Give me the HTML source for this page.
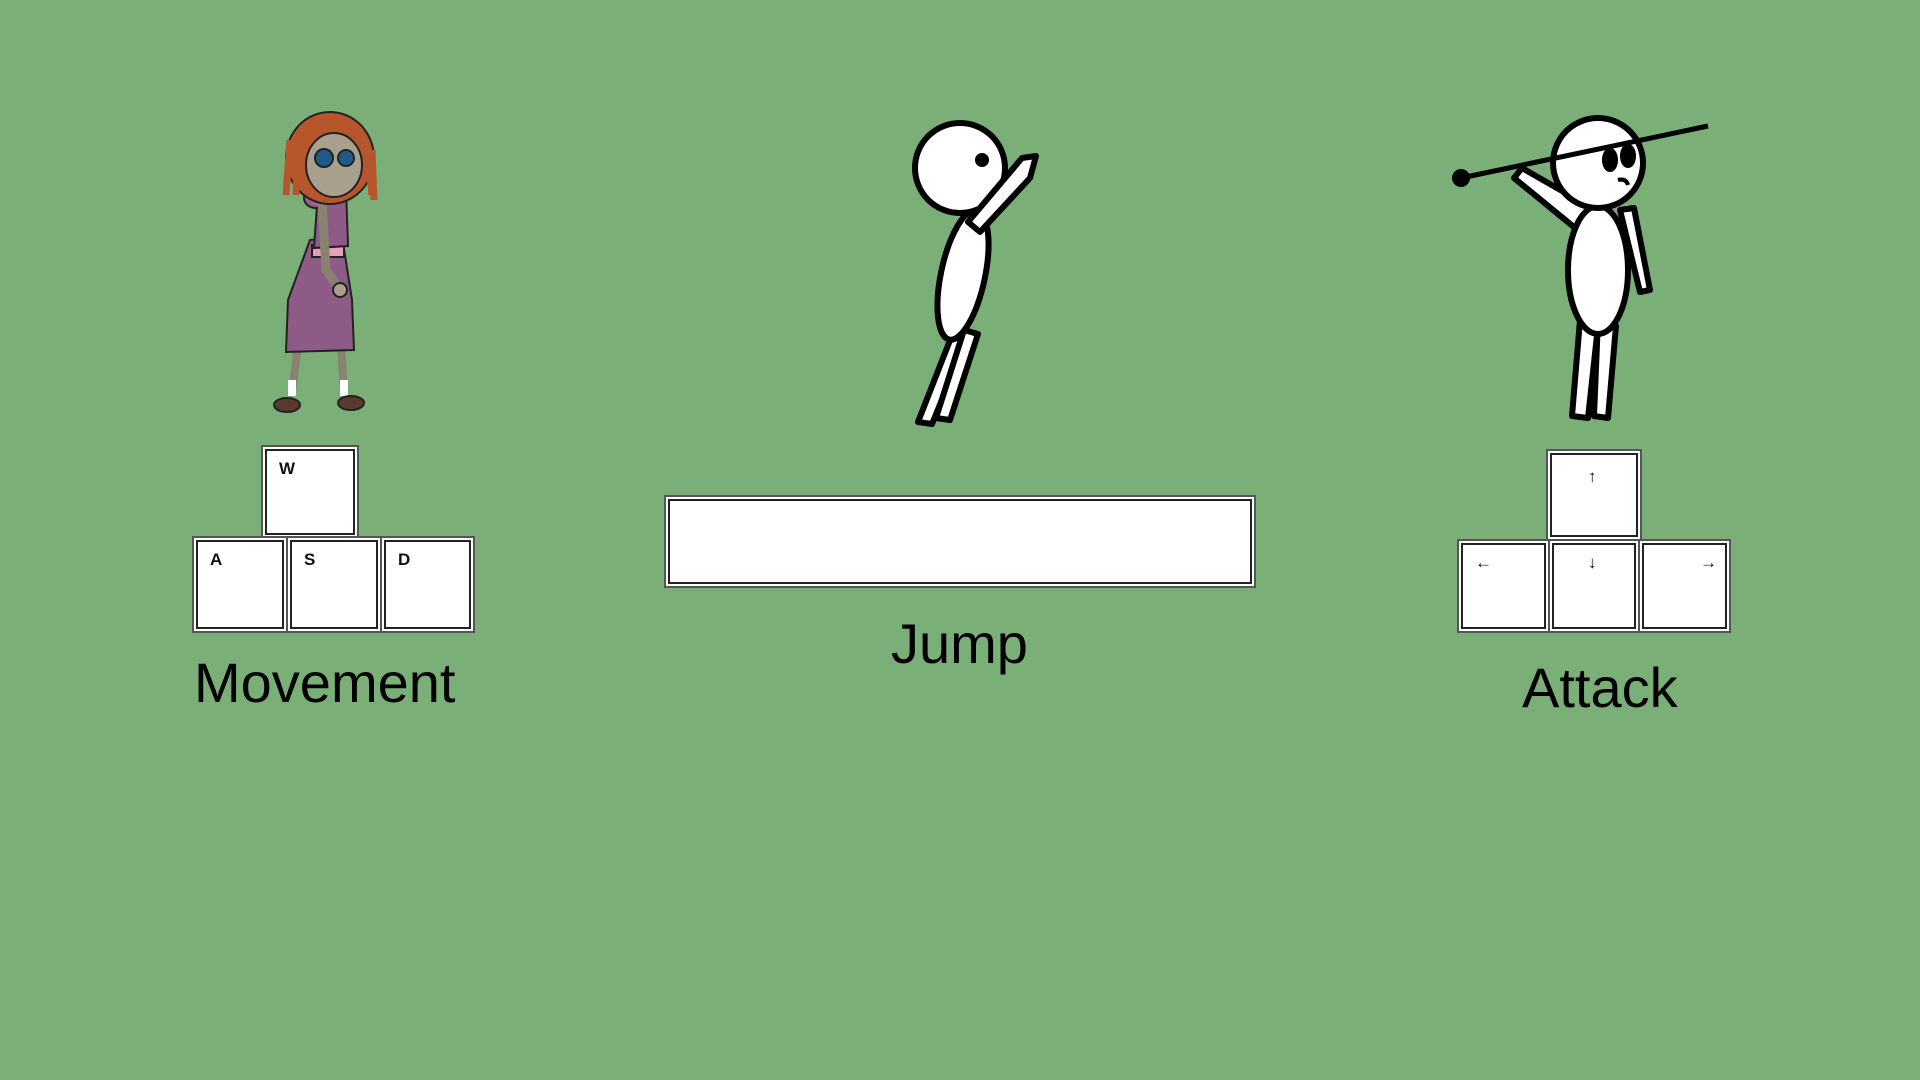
<!DOCTYPE html>
<html><head><meta charset="utf-8"><style>
html,body{margin:0;padding:0}
body{width:1920px;height:1080px;background:#7aaf77;position:relative;overflow:hidden;font-family:"Liberation Sans",sans-serif}
.key{position:absolute;background:#fff;box-sizing:border-box;border:2px solid #555;box-shadow:inset 0 0 0 2px #fff,inset 0 0 0 4px #222}
.key span{position:absolute;left:16px;top:12px;font-weight:bold;font-size:17px;color:#111}
.lbl{position:absolute;font-size:56px;color:#000;white-space:nowrap;line-height:1}
svg{position:absolute;left:0;top:0}
</style></head><body>
<svg width="1920" height="1080">
  <g stroke="#222" stroke-width="2">
    <path d="M300 330 L292 392 M340 330 L344 392" stroke="#8a8270" stroke-width="8" fill="none"/>
    <rect x="288" y="380" width="8" height="16" fill="#fff" stroke="none"/>
    <rect x="340" y="380" width="8" height="16" fill="#fff" stroke="none"/>
    <ellipse cx="287" cy="405" rx="13" ry="7" fill="#5a3a2c"/>
    <ellipse cx="351" cy="403" rx="13" ry="7" fill="#5a3a2c"/>
    <path d="M310 240 L342 236 L352 300 L354 350 L286 352 L288 300 Z" fill="#8e5a86"/>
    <rect x="312" y="245" width="32" height="12" fill="#e59fb8"/>
    <path d="M318 190 L346 188 L348 246 L314 248 Z" fill="#8e5a86"/>
    <ellipse cx="316" cy="198" rx="12" ry="10" fill="#9a6390"/>
    <path d="M322 200 L326 270 L340 290" stroke="#8a8270" stroke-width="9" fill="none"/>
    <circle cx="340" cy="290" r="7" fill="#a8a08d"/>
    <ellipse cx="330" cy="158" rx="44" ry="46" fill="#b7562b"/>
    <ellipse cx="334" cy="165" rx="28" ry="32" fill="#a8a08d"/>
    <circle cx="324" cy="158" r="9" fill="#1f5a8a"/>
    <circle cx="346" cy="158" r="8" fill="#1f5a8a"/>
    <path d="M290 140 L286 195 M298 135 L296 195 M366 140 L372 195 M372 150 L374 200" stroke="#b7562b" stroke-width="7"/>
  </g>
  <g stroke="#000" stroke-width="6" fill="#fff" stroke-linejoin="round">
    <path d="M954 330 L918 422 L932 424 L968 336 Z"/>
    <path d="M964 330 L936 418 L950 420 L978 334 Z"/>
    <ellipse cx="963" cy="275" rx="22" ry="66" transform="rotate(12 963 275)"/>
    <circle cx="960" cy="168" r="45"/>
    <circle cx="982" cy="160" r="4" fill="#000"/>
    <path d="M968 222 L1022 158 L1036 156 L1030 178 L980 232 Z"/>
  </g>
  <g stroke="#000" stroke-width="6" fill="#fff" stroke-linejoin="round">
    <path d="M1580 320 L1572 416 L1588 418 L1598 326 Z"/>
    <path d="M1598 320 L1594 416 L1608 418 L1616 326 Z"/>
    <path d="M1592 208 L1522 168 L1514 178 L1580 232 Z"/>
    <path d="M1620 210 L1640 292 L1650 290 L1634 208 Z"/>
    <ellipse cx="1598" cy="270" rx="30" ry="64"/>
    <circle cx="1598" cy="163" r="45"/>
    <ellipse cx="1610" cy="160" rx="5" ry="9" fill="#000"/>
    <ellipse cx="1628" cy="156" rx="5" ry="9" fill="#000"/>
    <path d="M1618 180 Q1626 178 1628 185" fill="none" stroke-width="4"/>
    <line x1="1461" y1="178" x2="1708" y2="126" stroke-width="5"/>
    <circle cx="1461" cy="178" r="6" fill="#000"/>
  </g>
</svg>

<div class="key" style="left:261px;top:445px;width:98px;height:94px"><span>W</span></div>
<div class="key" style="left:192px;top:536px;width:96px;height:97px"><span>A</span></div>
<div class="key" style="left:286px;top:536px;width:96px;height:97px"><span>S</span></div>
<div class="key" style="left:380px;top:536px;width:95px;height:97px"><span>D</span></div>
<div class="lbl" style="left:194px;top:655px">Movement</div>

<div class="key" style="left:664px;top:495px;width:592px;height:93px"></div>
<div class="lbl" style="left:891px;top:616px">Jump</div>

<div class="key" style="left:1546px;top:449px;width:96px;height:92px"><span style="left:40px;top:16px;font-weight:normal">↑</span></div>
<div class="key" style="left:1457px;top:539px;width:93px;height:94px"><span style="font-weight:normal">←</span></div>
<div class="key" style="left:1548px;top:539px;width:92px;height:94px"><span style="left:38px;font-weight:normal">↓</span></div>
<div class="key" style="left:1638px;top:539px;width:93px;height:94px"><span style="left:60px;font-weight:normal">→</span></div>
<div class="lbl" style="left:1522px;top:660px">Attack</div>
</body></html>
